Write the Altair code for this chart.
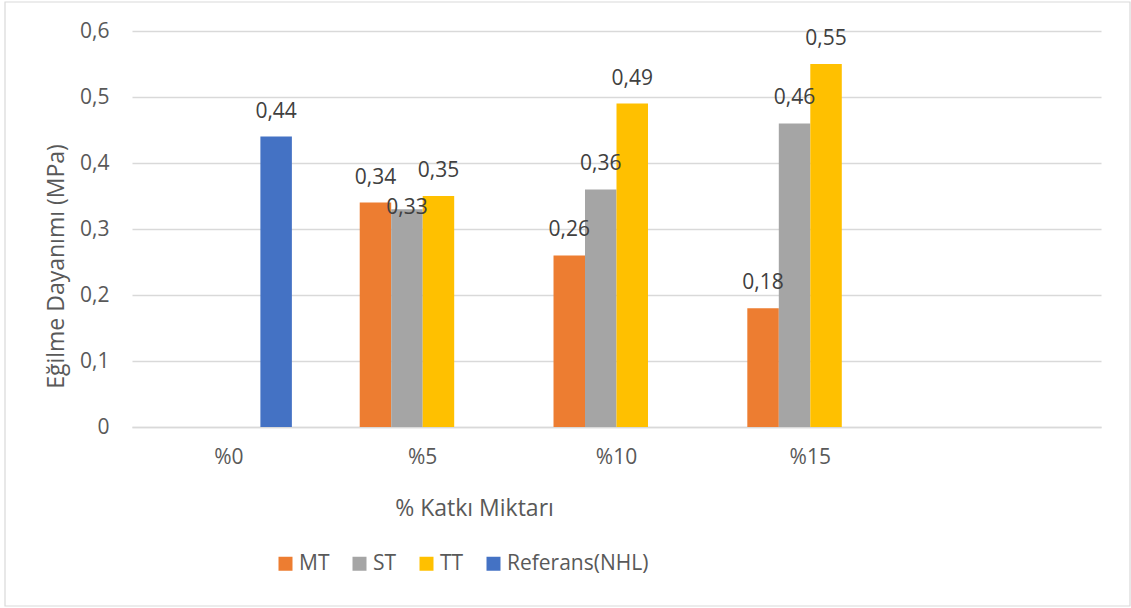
import altair as alt
import pandas as pd

# Additive ratio groups (the trailing blank slot keeps an empty band on the right)
categories = ["%0", "%5", "%10", "%15"]
blank_slot = [" "]

series = ["MT", "ST", "TT", "Referans(NHL)"]
colors = ["#ED7D31", "#A5A5A5", "#FFC000", "#4472C4"]

# Flexural strength (MPa) per series and group; None = not tested
mt = [None, 0.34, 0.26, 0.18]
st = [None, 0.33, 0.36, 0.46]
tt = [None, 0.35, 0.49, 0.55]
ref = [0.44, None, None, None]

y_ticks = [0, 0.1, 0.2, 0.3, 0.4, 0.5, 0.6]

rows = []
for name, vals in zip(series, [mt, st, tt, ref]):
    for cat, v in zip(categories, vals):
        if v is not None:
            rows.append({"kategori": cat, "seri": name, "deger": v})
df = pd.DataFrame(rows)

FONT = "Open Sans"
AXIS_GRAY = "#595959"
GRID = "#D9D9D9"

x_enc = alt.X(
    "kategori:N",
    sort=categories + blank_slot,
    scale=alt.Scale(domain=categories + blank_slot, paddingInner=0.35, paddingOuter=0.175),
    axis=alt.Axis(
        title="% Katkı Miktarı",
        titleFont=FONT, titleFontSize=23, titleFontWeight="normal", titleColor=AXIS_GRAY,
        titleX=342, titleY=88, titleBaseline="alphabetic", titleAnchor="start", titleAlign="center",
        labelFont=FONT, labelFontSize=21, labelColor=AXIS_GRAY, labelAngle=0,
        labelBaseline="alphabetic", labelPadding=36,
        ticks=False, tickSize=0, grid=False,
        domainColor=GRID, domainWidth=1.3,
    ),
)
xoff_enc = alt.XOffset("seri:N", scale=alt.Scale(domain=series, paddingInner=0, paddingOuter=0))
y_enc = alt.Y(
    "deger:Q",
    scale=alt.Scale(domain=[0, 0.6], nice=False),
    axis=alt.Axis(
        values=y_ticks,
        labelExpr="replace(format(datum.value, '~g'), '.', ',')",
        title="Eğilme Dayanımı (MPa)",
        titleFont=FONT, titleFontSize=23, titleFontWeight="normal", titleColor=AXIS_GRAY,
        titleX=-69, titleY=235, titleBaseline="alphabetic", titleAngle=-90, titleAlign="center",
        labelFont=FONT, labelFontSize=21, labelColor=AXIS_GRAY,
        labelPadding=23, ticks=False, tickSize=0, domain=False,
        gridColor=GRID, gridWidth=1.3,
    ),
)
color_enc = alt.Color(
    "seri:N",
    scale=alt.Scale(domain=series, range=colors),
    legend=alt.Legend(
        title=None, orient="none", legendX=143, legendY=522, direction="horizontal",
        symbolType="square", symbolSize=196, symbolStrokeWidth=0,
        labelFont=FONT, labelFontSize=21, labelColor=AXIS_GRAY,
        labelOffset=3, columnPadding=19, padding=0,
    ),
)

base = alt.Chart(df)

bars = base.mark_bar().encode(x=x_enc, xOffset=xoff_enc, y=y_enc, color=color_enc)

label_text = "replace(format(datum.deger, '.2f'), '.', ',')"
is_crowded = "datum.seri == 'ST' && datum.kategori == '%5'"

labels = base.transform_filter("!(" + is_crowded + ")").transform_calculate(
    txt=label_text
).mark_text(font=FONT, fontSize=21, color="#404040", baseline="middle", dy=-25).encode(
    x=alt.X("kategori:N", sort=categories + blank_slot),
    xOffset=alt.XOffset("seri:N"),
    y=alt.Y("deger:Q"),
    text="txt:N",
)

label_low = base.transform_filter(is_crowded).transform_calculate(
    txt=label_text
).mark_text(font=FONT, fontSize=21, color="#404040", baseline="middle", dy=-1).encode(
    x=alt.X("kategori:N", sort=categories + blank_slot),
    xOffset=alt.XOffset("seri:N"),
    y=alt.Y("deger:Q"),
    text="txt:N",
)

frame = alt.Chart(pd.DataFrame({"k": [0]})).mark_rect(
    fillOpacity=0, stroke=GRID, strokeWidth=1.2
).encode(
    x=alt.value(-127), x2=alt.value(998), y=alt.value(-29), y2=alt.value(575)
)

chart = alt.layer(frame, bars, labels, label_low).properties(
    width=969,
    height=396,
    autosize=alt.AutoSizeParams(type="none"),
    padding={"left": 132, "top": 31, "right": 30, "bottom": 181},
    background="white",
).configure_view(strokeWidth=0)

chart.save("out.html", embed_options={"renderer": "svg", "actions": False})
